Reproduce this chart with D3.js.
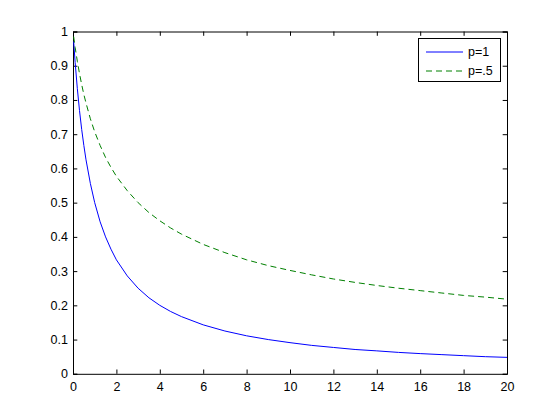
<!DOCTYPE html>
<html><head><meta charset="utf-8">
<script src="https://cdn.jsdelivr.net/npm/d3@7"></script>
<style>body{margin:0;background:#fff}svg{display:block}text{font-family:"Liberation Sans",Arial,sans-serif;font-size:12.5px;fill:#000}</style>
</head><body><svg id="c" width="560" height="420"></svg>
<script>
const xs = [0.03,0.1,0.2,0.3,0.4,0.5,0.6,0.8,1,1.25,1.5,1.75,2,2.5,3,3.5,4,4.5,5,6,7,8,9,10,11,12,13,14,15,16,17,18,19,20];
const p1 = [0.971,0.909,0.833,0.769,0.714,0.667,0.625,0.556,0.5,0.444,0.4,0.364,0.333,0.286,0.25,0.222,0.2,0.182,0.167,0.143,0.125,0.111,0.1,0.091,0.083,0.077,0.071,0.067,0.0625,0.059,0.056,0.053,0.05,0.048];
const p05 = [0.985,0.953,0.913,0.877,0.845,0.816,0.791,0.745,0.707,0.667,0.632,0.603,0.577,0.535,0.5,0.471,0.447,0.426,0.408,0.378,0.354,0.333,0.316,0.302,0.289,0.277,0.267,0.258,0.25,0.243,0.236,0.229,0.224,0.218];
const xTicks = [0,2,4,6,8,10,12,14,16,18,20];
const yTicks = [0,0.1,0.2,0.3,0.4,0.5,0.6,0.7,0.8,0.9,1];
const seriesNames = ["p=1","p=.5"];

const L=73, R=507, T=31.5, B=373.8;
const svg=d3.select("#c");
const x=d3.scaleLinear().domain([0,20]).range([L,R]);
const y=d3.scaleLinear().domain([0,1]).range([B,T]);
const tl=4.3;

// axes with inward ticks
const fmtY=d=>d===0?"0":(d===1?"1":d3.format(".1f")(d).replace(/^0/,"0"));
const gB=svg.append("g").attr("transform",`translate(0,${B})`).call(d3.axisBottom(x).tickValues(xTicks).tickSize(-tl).tickPadding(8).tickFormat(d3.format("d")));
const gT=svg.append("g").attr("transform",`translate(0,${T})`).call(d3.axisTop(x).tickValues(xTicks).tickSize(-tl).tickFormat(""));
const gL=svg.append("g").attr("transform",`translate(${L},0)`).call(d3.axisLeft(y).tickValues(yTicks).tickSize(-tl).tickPadding(5).tickFormat(fmtY));
const gR=svg.append("g").attr("transform",`translate(${R},0)`).call(d3.axisRight(y).tickValues(yTicks).tickSize(-tl).tickFormat(""));
[gB,gT,gL,gR].forEach(g=>{
  g.select(".domain").attr("stroke","#000").attr("stroke-width",1);
  g.selectAll(".tick line").attr("stroke","#000");
  g.selectAll("text").attr("fill","#000").attr("font-size","12.5px").attr("font-family","Liberation Sans, Arial, sans-serif");
});
gB.selectAll("text").attr("dy","0.71em");

const line=d3.line().x((d,i)=>x(xs[i])).y(d=>y(d));
svg.append("path").datum(p1).attr("d",line).attr("fill","none").attr("stroke","#0000ff").attr("stroke-width",1);
svg.append("path").datum(p05).attr("d",line).attr("fill","none").attr("stroke","#008000").attr("stroke-width",1).attr("stroke-dasharray","6,4");

// legend
const lg=svg.append("g");
lg.append("rect").attr("x",418.5).attr("y",38.5).attr("width",82).attr("height",43).attr("fill","#fff").attr("stroke","#000");
const colors=["#0000ff","#008000"], dashes=[null,"6,4"];
seriesNames.forEach((n,i)=>{
  const yy=52+i*19;
  lg.append("line").attr("x1",426).attr("x2",463).attr("y1",yy).attr("y2",yy).attr("stroke",colors[i]).attr("stroke-dasharray",dashes[i]);
  lg.append("text").attr("x",468).attr("y",yy).attr("dy","0.35em").text(n);
});
</script></body></html>
